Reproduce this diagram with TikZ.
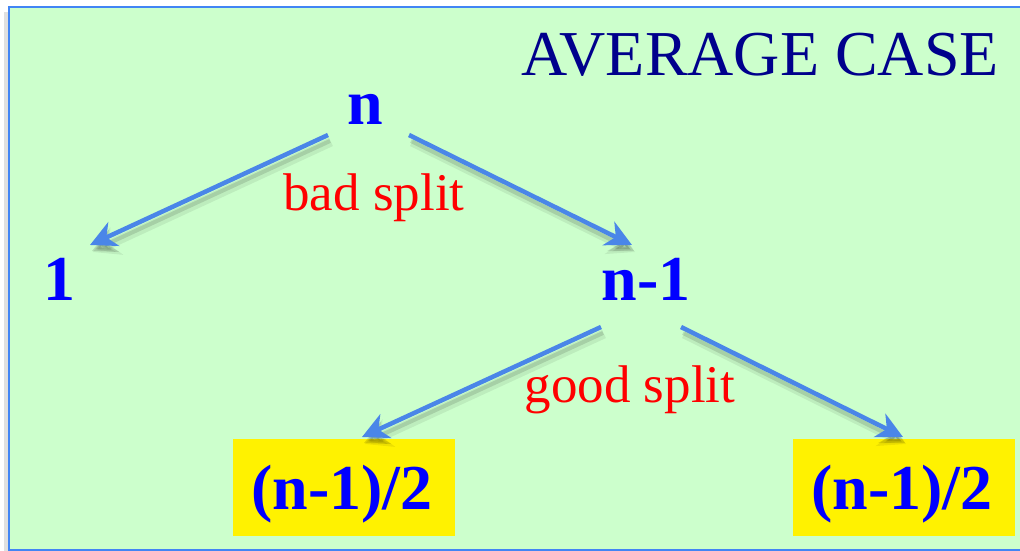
\documentclass[tikz,border=0pt]{standalone}
\usepackage{fontspec}
\setmainfont{Liberation Serif}
\usetikzlibrary{arrows.meta}
\definecolor{bggreen}{RGB}{204,255,204}
\definecolor{frameblue}{RGB}{66,133,244}
\definecolor{arrblue}{RGB}{74,134,232}
\definecolor{titlenavy}{RGB}{0,0,140}
\tikzset{
  big/.style={font=\fontsize{64}{64}\selectfont\bfseries, text=blue, inner sep=0pt, anchor=base},
  lbl/.style={font=\fontsize{53}{53}\selectfont, text=red, inner sep=0pt, anchor=base},
  ybox/.style={fill=yellow, draw=none},
  arr/.style={draw=arrblue, line width=4.5pt, -{Stealth[length=26pt,width=26pt,inset=8pt]}},
  shad/.style={draw=black, line width=9pt, opacity=0.07, -{Stealth[length=26pt,width=30pt,inset=8pt]}},
  shadb/.style={draw=black, line width=4pt, opacity=0.12, -{Stealth[length=24pt,width=24pt,inset=8pt]}}
}
\begin{document}
\begin{tikzpicture}[x=1pt,y=-1pt]
\useasboundingbox (0,0) rectangle (1020,551);
\fill[white] (0,0) rectangle (1020,551);
% frame shadow
\fill[black,opacity=0.12] (4,12) rectangle (9,552);
\fill[bggreen] (9,7) rectangle (1022,550);
\draw[frameblue,line width=2pt] (1022,7) -- (9,7) -- (9,550) -- (1022,550);
% title
\node[font=\fontsize{64}{64}\selectfont, text=titlenavy, inner sep=0pt, anchor=base east] (title) at (999,76) {AVERAGE CASE};
% yellow boxes
\fill[ybox] (233,439) rectangle (455,536);
\fill[ybox] (793,439) rectangle (1015,536);
% nodes
\node[big] (n) at (365,124) {n};
\node[big] (one) at (59,300) {1};
\node[big] (nm) at (646,300) {n-1};
\node[big] (hl) at (342,509) {(n-1)/2};
\node[big] (hr) at (902,509) {(n-1)/2};
\node[lbl] (bad) at (374,210) {bad split};
\node[lbl] (good) at (630,402) {good split};
% connector ends
\coordinate (a1s) at (328,135); \coordinate (a1e) at (90,245);
\coordinate (a2s) at (409,135); \coordinate (a2e) at (632,245);
\coordinate (a3s) at (601,327); \coordinate (a3e) at (362,437);
\coordinate (a4s) at (681,327); \coordinate (a4e) at (903,437);
% shadows
\foreach \s/\e in {a1s/a1e,a2s/a2e,a3s/a3e,a4s/a4e}{
  \draw[shad,transform canvas={shift={(3pt,-7pt)}}] (\s) -- (\e);
  \draw[shadb,transform canvas={shift={(2pt,-6pt)}}] (\s) -- (\e);
}
% arrows
\draw[arr] (a1s) -- (a1e);
\draw[arr] (a2s) -- (a2e);
\draw[arr] (a3s) -- (a3e);
\draw[arr] (a4s) -- (a4e);
\end{tikzpicture}
\end{document}
